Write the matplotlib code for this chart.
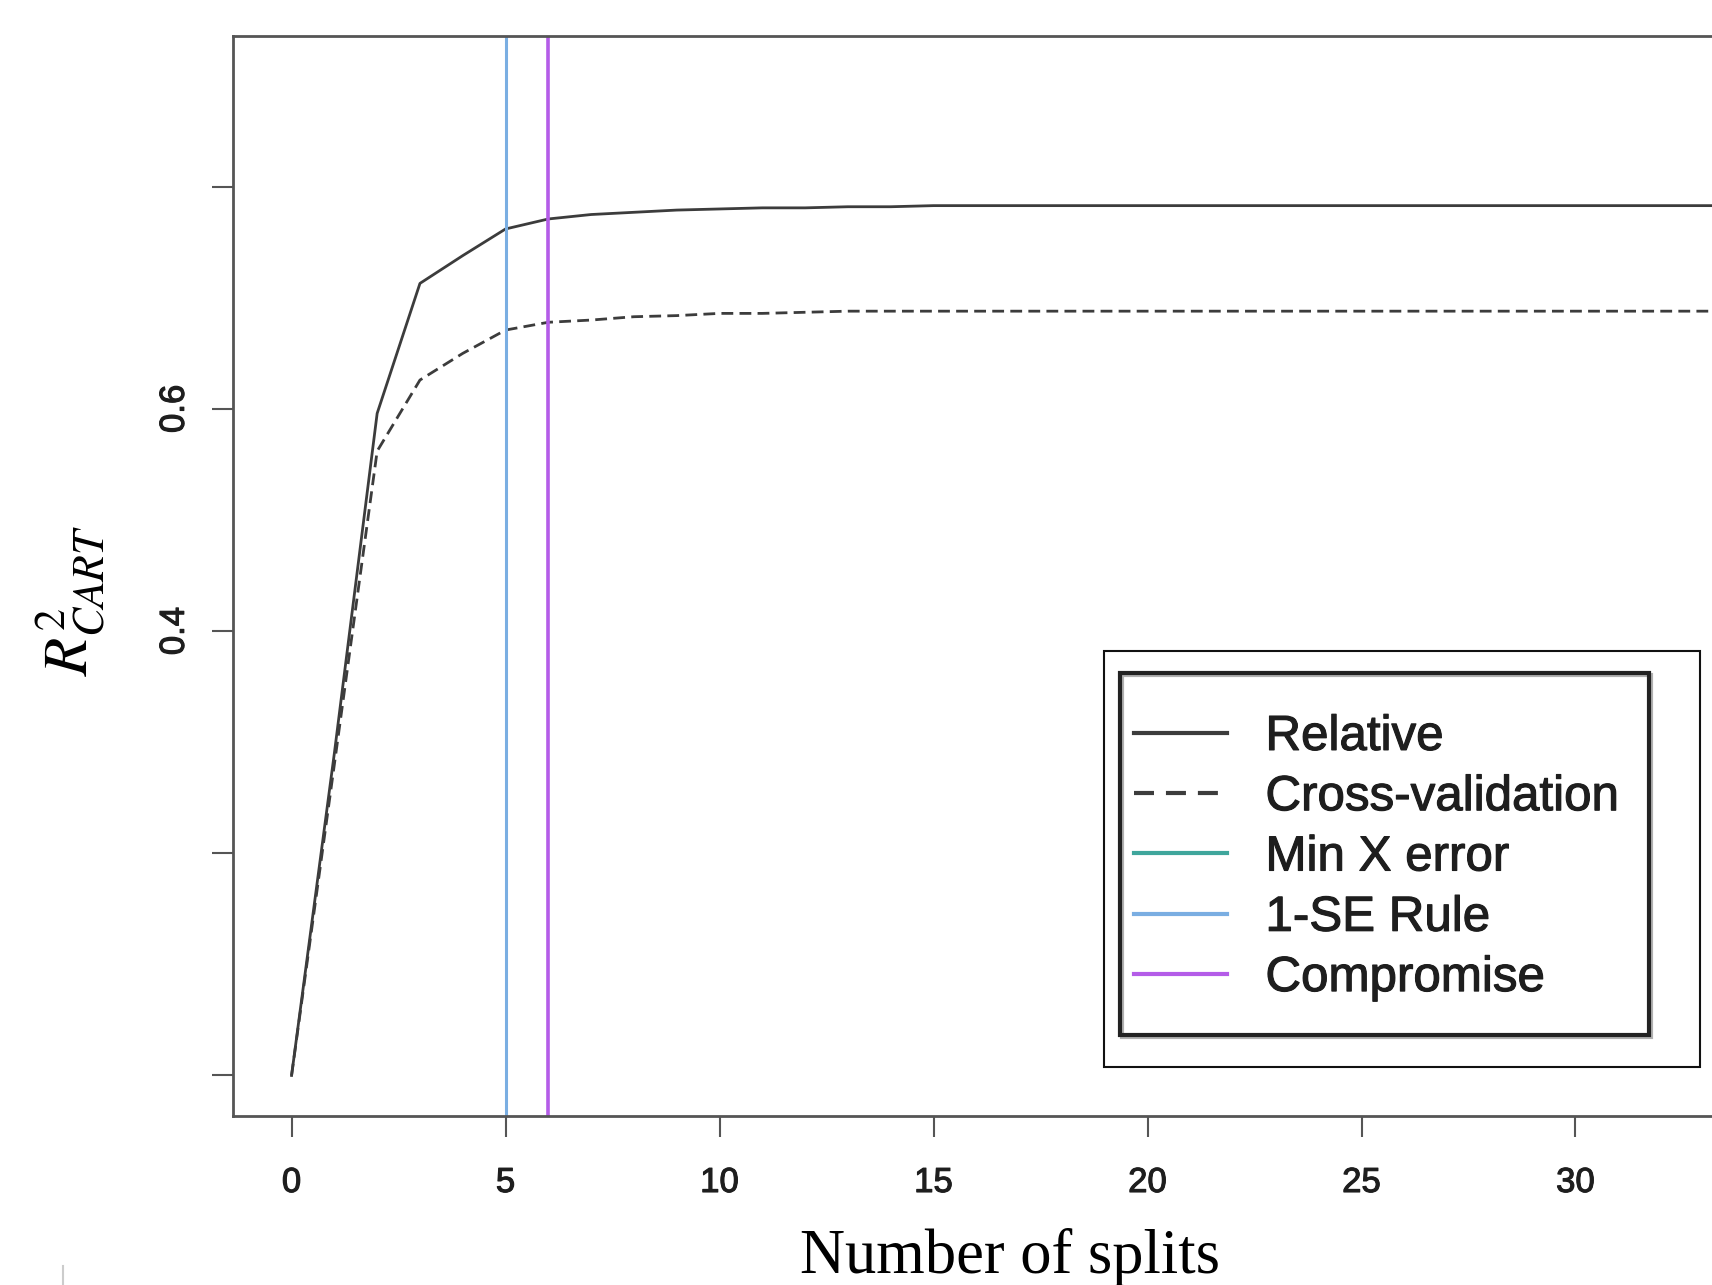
import matplotlib
matplotlib.use('Agg')
import matplotlib.pyplot as plt
import matplotlib.patheffects as pe
from matplotlib.lines import Line2D
from matplotlib.patches import Rectangle

# number of splits and R^2
splits = list(range(0, 35))
relative = [0.000, 0.290, 0.596, 0.713, 0.738, 0.762, 0.771, 0.775, 0.777, 0.779,
            0.780, 0.781, 0.781, 0.782, 0.782] + [0.783] * 20
cross_val = [0.000, 0.280, 0.562, 0.626, 0.650, 0.671, 0.678, 0.680, 0.683, 0.684,
             0.686, 0.686, 0.687] + [0.688] * 22

# chosen tree sizes (vertical lines)
min_x_error = 34
one_se_rule = 5
compromise = 6

x_ticks = [0, 5, 10, 15, 20, 25, 30]
y_ticks = [0.0, 0.2, 0.4, 0.6, 0.8]
y_tick_labels = ['', '', '0.4', '0.6', '']
legend_labels = ['Relative', 'Cross-validation', 'Min X error', '1-SE Rule', 'Compromise']

W, H, DPI = 1712, 1285, 100
DARK = '#3c3c3c'
TEAL = '#3fa69c'
BLUE = '#7aaee2'
PURPLE = '#b45ce8'
TXT = '#1e1e1e'

plt.rcParams['mathtext.fontset'] = 'stix'
plt.rcParams['lines.scale_dashes'] = False

fig = plt.figure(figsize=(W / DPI, H / DPI), dpi=DPI)
# the right side of the plot is cut off by the figure edge, as in the original
ax = fig.add_axes([232.5 / W, 1 - 1116 / H, (1828 - 232.5) / W, (1116 - 36) / H])

ax.plot(splits, relative, color=DARK, lw=2)
ax.plot(splits, cross_val, color=DARK, lw=2, dashes=(8.5, 4.5))
ax.axvline(min_x_error, color=TEAL, lw=2.2)
ax.axvline(one_se_rule, color=BLUE, lw=2.2)
ax.axvline(compromise, color=PURPLE, lw=2.6)

ax.set_xlim(-1.38, 35.9)
ax.set_ylim(-0.0365, 0.9357)
ax.set_xticks(x_ticks)
ax.set_yticks(y_ticks)
ax.set_yticklabels(y_tick_labels)

for s in ax.spines.values():
    s.set_color('#555555')
    s.set_linewidth(2)

bold_look = [pe.withStroke(linewidth=0.8, foreground=TXT)]

ax.tick_params(direction='out', length=15, width=1.5, color='#555555',
               labelsize=25, labelcolor=TXT)
ax.tick_params(axis='x', pad=21)
ax.tick_params(axis='y', pad=15, labelrotation=90)
for lab in ax.get_xticklabels() + ax.get_yticklabels():
    lab.set_family('Liberation Sans')
    lab.set_path_effects(bold_look)
for lab in ax.get_yticklabels():
    lab.set_va('center')

ax.set_xlabel('Number of splits', fontsize=45, family='Liberation Serif')
ax.xaxis.set_label_coords(0.4873, -0.1037)
ax.set_ylabel(r'$R^2_{CART}$', fontsize=45)
ax.yaxis.set_label_coords(-0.0787, 0.4773)


def fig_rect(x0, y0, x1, y1, **kw):
    # pixel box (top-left origin) -> figure fraction rectangle
    return Rectangle((x0 / W, 1 - y1 / H), (x1 - x0) / W, (y1 - y0) / H,
                     transform=fig.transFigure, **kw)


ax.add_patch(fig_rect(1104, 651, 1700, 1067, facecolor='white', edgecolor='#111111',
                      lw=1.5, zorder=4))
ax.add_patch(fig_rect(1122, 675, 1651, 1037, fill=False, edgecolor='#b0b0b0',
                      lw=3, zorder=4.1))
ax.add_patch(fig_rect(1120, 673, 1649, 1035, fill=False, edgecolor='#222222',
                      lw=3, zorder=4.2))

handles = [Line2D([], [], color=DARK, lw=3),
           Line2D([], [], color=DARK, lw=3, dashes=(14.4, 8.6)),
           Line2D([], [], color=TEAL, lw=3),
           Line2D([], [], color=BLUE, lw=3),
           Line2D([], [], color=PURPLE, lw=3)]
leg = ax.legend(handles, legend_labels, loc='center left',
                bbox_to_anchor=(1134 / W, 1 - 858 / H), bbox_transform=fig.transFigure,
                frameon=False, borderpad=0, borderaxespad=0,
                handlelength=1.886, handletextpad=0.78, labelspacing=0.31,
                prop={'family': 'Liberation Sans', 'size': 35.5})
for t in leg.get_texts():
    t.set_color(TXT)
    t.set_path_effects(bold_look)

# small grey mark at the lower left corner of the original
fig.add_artist(Line2D([63 / W, 63 / W], [1 - 1266 / H, 0], color='#cccccc', lw=1.5))

fig.savefig('out.png', dpi=DPI)
